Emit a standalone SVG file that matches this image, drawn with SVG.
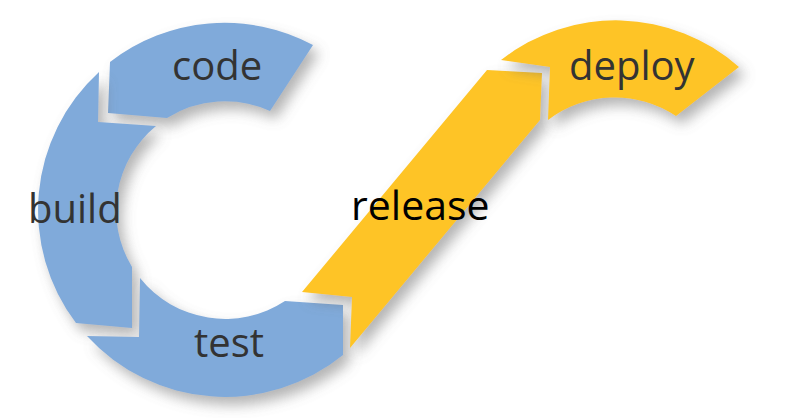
<svg xmlns="http://www.w3.org/2000/svg" width="793" height="418" viewBox="0 0 793 418">
  <defs>
    <filter id="shadow" x="-25%" y="-25%" width="150%" height="150%">
      <feGaussianBlur in="SourceAlpha" stdDeviation="6.5"/>
      <feOffset dx="6" dy="8" result="b"/>
      <feFlood flood-color="#6a6a6a" flood-opacity="0.5"/>
      <feComposite in2="b" operator="in"/>
      <feMerge><feMergeNode/><feMergeNode in="SourceGraphic"/></feMerge>
    </filter>
  </defs>
  <style>
    .blue { fill: #80AADA; filter: url(#shadow); }
    .yellow { fill: #FEC425; filter: url(#shadow); }
    .lbl { font-family: "Open Sans", "Noto Sans", sans-serif; font-size: 40px; fill: #333333; }
    .rel { font-family: "Open Sans", "Noto Sans", sans-serif; font-size: 41px; fill: #000000; }
  </style>
  <rect width="793" height="418" fill="#ffffff"/>
  <g id="code">
    <path class="blue" d="M 313,45 A 187 187 0 0 0 110,62 L 108,113 L 167,118 A 109 109 0 0 1 270,111 Z"/>
    <text class="lbl" x="172" y="80">code</text>
  </g>
  <g id="build">
    <path class="blue" d="M 99,72 L 98,122 L 156,126 A 109 109 0 0 0 132,267 L 132,328 L 76,323 A 187 187 0 0 1 99,72 Z"/>
    <text class="lbl" x="28" y="223">build</text>
  </g>
  <g id="test">
    <path class="blue" d="M 87,336 L 139,337 L 140,278 A 109 109 0 0 0 285,301 L 343,305 L 343,355 A 187 187 0 0 1 87,336 Z"/>
    <text class="lbl" x="194" y="357">test</text>
  </g>
  <g id="release">
    <path class="yellow" d="M 302,292 L 352,297 L 350,348 L 540,120 L 542,73 L 487,70 Z"/>
    <text class="rel" x="351" y="220">release</text>
  </g>
  <g id="deploy">
    <path class="yellow" d="M 501,60 A 186 186 0 0 1 739,67 L 676,116 A 110 110 0 0 0 548,120 L 550,67 Z"/>
    <text class="lbl" x="569" y="80">deploy</text>
  </g>
  <g id="connectors"/>
</svg>
